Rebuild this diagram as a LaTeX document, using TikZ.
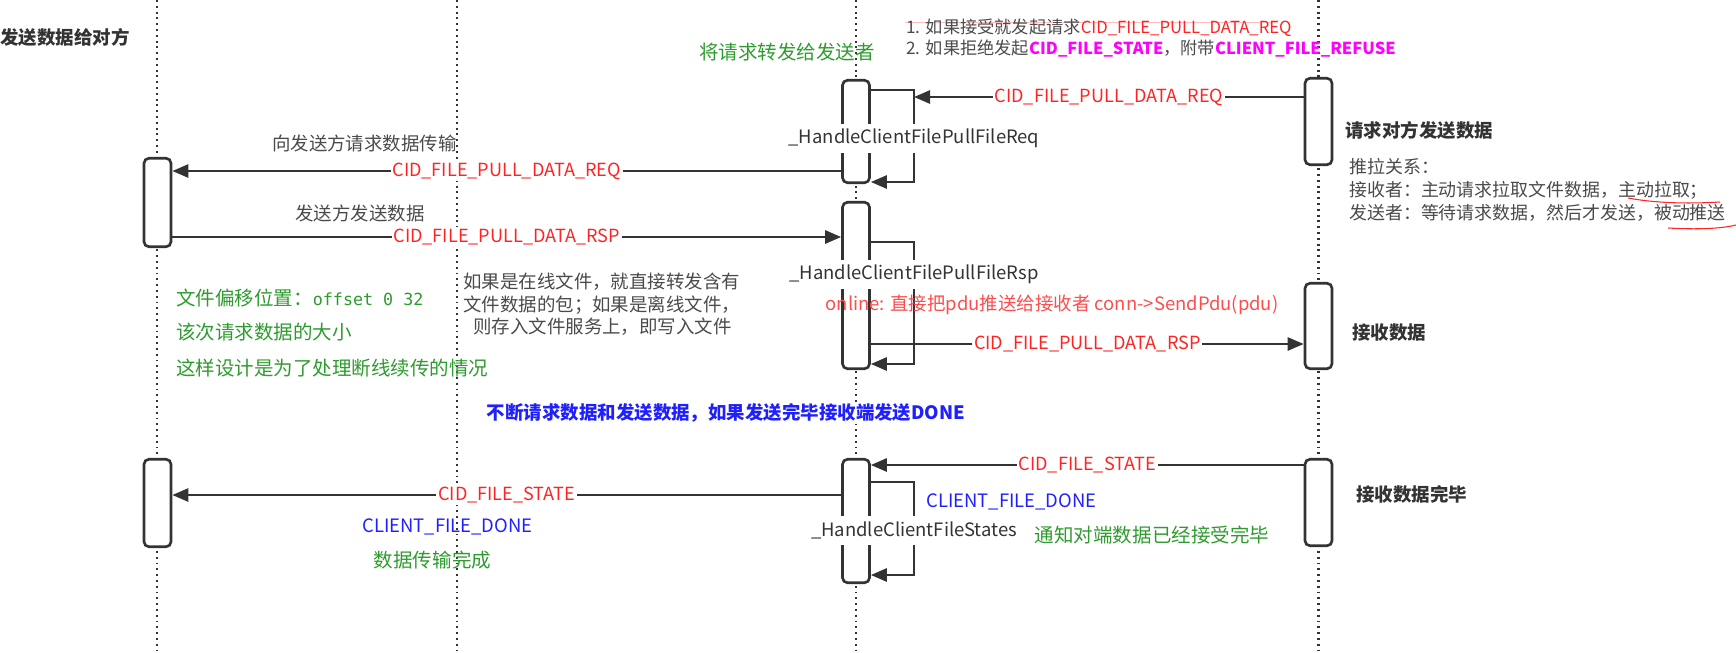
\documentclass[tikz,border=0pt]{standalone}
\usepackage{fontspec}
\setmainfont{Noto Sans CJK SC}
\newfontfamily\offsetfont{DejaVu Sans Mono}
\usetikzlibrary{arrows.meta}

\definecolor{ink}{HTML}{333333}
\definecolor{msgred}{HTML}{FF2424}
\definecolor{onlinered}{HTML}{FF4C4C}
\definecolor{notegreen}{HTML}{2E9B2E}
\definecolor{noteblue}{HTML}{2020FF}
\definecolor{notemagenta}{HTML}{FF00FF}
\definecolor{notegray}{HTML}{4A4A4A}

\tikzset{
  lifeline/.style={ink, line width=1.2pt, dash pattern=on 1.1pt off 2.2pt},
  actbox/.style={draw=ink, fill=white, line width=1.5pt, rounded corners=0.1cm, minimum width=0.54cm, inner sep=0pt},
  msg/.style={ink, line width=1.5pt, -{Triangle[length=0.32cm, width=0.26cm]}},
  msglabel/.style={fill=white, text=msgred, inner sep=1pt, font=\fontsize{10.3}{12}\selectfont},
  fnlabel/.style={fill=white, text=ink, inner sep=2pt, minimum height=0.58cm, font=\fontsize{10.5}{12}\selectfont},
  headline/.style={text=ink, inner sep=0pt, font=\fontsize{10.5}{12}\selectfont\bfseries},
  graynote/.style={text=notegray, inner sep=0pt, font=\fontsize{10.5}{12.8}\selectfont},
  topnote/.style={text=notegray, inner sep=0pt, font=\fontsize{9.8}{11}\selectfont},
  greennote/.style={text=notegreen, inner sep=0pt, font=\fontsize{11.1}{13}\selectfont},
  bluenote/.style={text=noteblue, inner sep=0pt, font=\fontsize{10.5}{12}\selectfont},
  rednote/.style={text=onlinered, inner sep=0pt, font=\fontsize{10.5}{12}\selectfont}
}

% self call on the server lifeline: box, top, bottom, label height, label
\def\selfcall(#1)(#2:#3)(#4)#5{
  \draw[msg] (#1.east |- 0,#2) -- (18.28,#2) -- (18.28,#3) -- (#1.east |- 0,#3);
  \node[fnlabel] at (18.28,#4) {#5};
}
\def\keyword#1{\textcolor{notemagenta}{\fontsize{9.4}{11}\selectfont\bfseries #1}}

\begin{document}
\begin{tikzpicture}
  \useasboundingbox (0,0) rectangle (34.72,-13.04);

  %%%%% lifelines %%%%%
  \foreach \x in {3.14, 9.14, 17.12, 26.37}
    \draw[lifeline] (\x,0) -- (\x,-13.04);

  %%%%% activation boxes %%%%%
  \node[actbox, minimum height=1.77cm] (sendReq) at (3.15,-4.05) {};
  \node[actbox, minimum height=1.75cm] (sendDone) at (3.15,-10.06) {};

  \node[actbox, minimum height=2.05cm] (srvReq) at (17.12,-2.63) {};
  \node[actbox, minimum height=3.33cm] (srvRsp) at (17.12,-5.71) {};
  \node[actbox, minimum height=2.47cm] (srvState) at (17.12,-10.42) {};

  \node[actbox, minimum height=1.73cm] (recvReq) at (26.37,-2.43) {};
  \node[actbox, minimum height=1.71cm] (recvData) at (26.37,-6.52) {};
  \node[actbox, minimum height=1.73cm] (recvDone) at (26.37,-10.05) {};

  %%%%% messages %%%%%
  \draw[msg] (recvReq.west |- 0,-1.94) -- node[msglabel] {CID\_FILE\_PULL\_DATA\_REQ} (18.28,-1.94);
  \draw[msg] (srvReq.west |- 0,-3.42) -- node[msglabel] {CID\_FILE\_PULL\_DATA\_REQ} (sendReq.east |- 0,-3.42);
  \draw[msg] (sendReq.east |- 0,-4.74) -- node[msglabel] {CID\_FILE\_PULL\_DATA\_RSP} (srvRsp.west |- 0,-4.74);
  \draw[msg] (srvRsp.east |- 0,-6.88) -- node[msglabel] {CID\_FILE\_PULL\_DATA\_RSP} (recvData.west |- 0,-6.88);
  \draw[msg] (recvDone.west |- 0,-9.30) -- node[msglabel] {CID\_FILE\_STATE} (srvState.east |- 0,-9.30);
  \draw[msg] (srvState.west |- 0,-9.90) -- node[msglabel] {CID\_FILE\_STATE} (sendDone.east |- 0,-9.90);

  \selfcall(srvReq)(-1.80:-3.64)(-2.76){\_HandleClientFilePullFileReq}
  \selfcall(srvRsp)(-4.84:-7.28)(-5.48){\_HandleClientFilePullFileRsp}
  \selfcall(srvState)(-9.64:-11.50)(-10.60){\_HandleClientFileStates}

  %%%%% notes %%%%%
  \node[headline, anchor=west] (senderTitle) at (0,-0.74) {发送数据给对方};
  \node[greennote] (forwardNote) at (15.74,-1.04) {将请求转发给发送者};
  \draw[msgred!30, line width=0.4pt] (18.1,-0.44) -- (25.54,-0.44);
  \node[topnote, anchor=west] (acceptNote) at (18.12,-0.55) {1. 如果接受就发起请求\textcolor{msgred}{\fontsize{9.5}{11}\selectfont CID\_FILE\_PULL\_DATA\_REQ}};
  \node[topnote, anchor=west] (refuseNote) at (18.12,-0.97) {2. 如果拒绝发起\keyword{CID\_FILE\_STATE}，附带\keyword{CLIENT\_FILE\_REFUSE}};

  \node[graynote, anchor=east] (askNote) at (9.14,-2.86) {向发送方请求数据传输};
  \node[graynote] (sendNote) at (7.2,-4.26) {发送方发送数据};
  \node[graynote, anchor=west, align=left] (forwardRule) at (9.26,-6.09)
    {如果是在线文件，就直接转发含有\\文件数据的包；如果是离线文件，\\\hspace{0.2cm}则存入文件服务上，即写入文件};

  \node[greennote, anchor=west] (offsetNote) at (3.52,-5.96) {文件偏移位置：{\offsetfont\fontsize{9.5}{11}\selectfont offset 0 32}};
  \node[greennote, anchor=west] (sizeNote) at (3.52,-6.64) {该次请求数据的大小};
  \node[greennote, anchor=west] (resumeNote) at (3.52,-7.36) {这样设计是为了处理断线续传的情况};

  \node[rednote] (onlineNote) at (21.04,-6.10) {online: 直接把pdu推送给接收者 conn->SendPdu(pdu)};
  \node[bluenote, fill=white, inner sep=1pt, font=\fontsize{10.5}{12}\selectfont\bfseries] (loopNote) at (14.52,-8.26) {不断请求数据和发送数据，如果发送完毕接收端发送DONE};

  \node[headline, anchor=west] (recvTitle) at (26.9,-2.60) {请求对方发送数据};
  \node[graynote, anchor=west, align=left, font=\fontsize{10.2}{13.1}\selectfont] (pushPull) at (26.98,-3.80)
    {推拉关系：\\接收者：主动请求拉取文件数据，主动拉取；\\发送者：等待请求数据，然后才发送，被动推送};
  \draw[msgred, line width=0.6pt] (32.56,-3.96) .. controls (33.2,-4.08) and (33.9,-4.07) .. (34.4,-4.04);
  \draw[msgred, line width=0.6pt] (33.36,-4.56) .. controls (33.9,-4.59) and (34.4,-4.58) .. (34.72,-4.50);
  \node[headline, anchor=west] (recvDataNote) at (27.04,-6.66) {接收数据};
  \node[headline, anchor=west] (recvDoneNote) at (27.12,-9.88) {接收数据完毕};

  \node[bluenote] (doneLeft) at (8.95,-10.54) {CLIENT\_FILE\_DONE};
  \node[greennote] (finishNote) at (8.65,-11.20) {数据传输完成};
  \node[bluenote] (doneRight) at (20.23,-10.04) {CLIENT\_FILE\_DONE};
  \node[greennote] (notifyNote) at (23.04,-10.70) {通知对端数据已经接受完毕};
\end{tikzpicture}
\end{document}
